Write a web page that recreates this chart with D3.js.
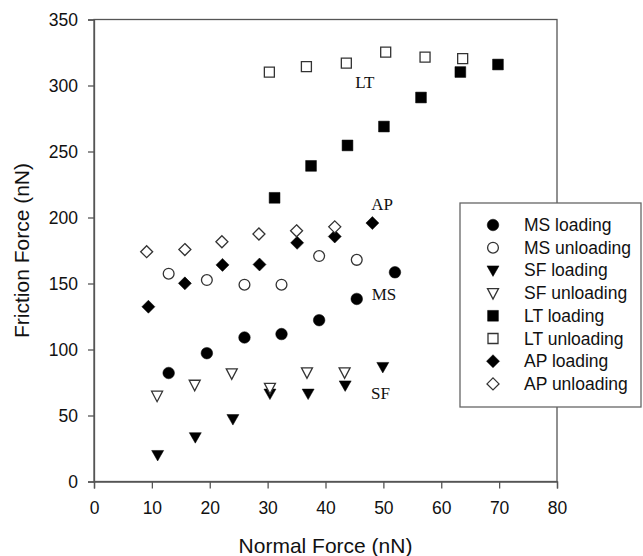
<!DOCTYPE html>
<html>
<head>
<meta charset="utf-8">
<title>Friction vs Normal Force</title>
<script src="https://cdn.jsdelivr.net/npm/d3@7/dist/d3.min.js"></script>
<style>
  body { margin: 0; background: #fff; }
  svg { display: block; font-family: "Liberation Sans", Arial, sans-serif; }
</style>
</head>
<body>
<svg id="chart" width="643" height="556"></svg>
<script>
// data (normal force nN, friction force nN)
const msLoadX = [12.9, 19.5, 26.0, 32.4, 38.9, 45.4, 52.0];
const msLoadY = [82.2, 97.2, 109.1, 111.7, 122.2, 138.3, 158.5];
const msUnloadX = [12.9, 19.5, 26.0, 32.4, 38.9, 45.4];
const msUnloadY = [157.4, 152.6, 149.1, 149.1, 170.8, 167.9];

const sfLoadX = [11.0, 17.5, 24.0, 30.4, 37.0, 43.4, 49.9];
const sfLoadY = [20.1, 33.6, 47.3, 66.6, 66.6, 72.8, 86.8];
const sfUnloadX = [10.9, 17.4, 23.8, 30.4, 36.8, 43.3];
const sfUnloadY = [65.0, 73.3, 81.9, 70.9, 82.7, 82.7];

const ltLoadX = [31.2, 37.5, 43.8, 50.1, 56.5, 63.3, 69.8];
const ltLoadY = [214.9, 239.1, 254.6, 268.9, 290.9, 310.2, 315.9];
const ltUnloadX = [30.3, 36.7, 43.6, 50.4, 57.2, 63.7];
const ltUnloadY = [310.2, 314.3, 316.9, 325.3, 321.5, 320.4];

const apLoadX = [9.4, 15.7, 22.2, 28.6, 35.1, 41.6, 48.1];
const apLoadY = [132.4, 150.1, 164.1, 164.4, 180.8, 185.6, 195.8];
const apUnloadX = [9.1, 15.7, 22.1, 28.5, 35.0, 41.6];
const apUnloadY = [174.1, 175.7, 181.6, 187.5, 189.9, 192.9];

const xTicks = [0, 10, 20, 30, 40, 50, 60, 70, 80];
const yTicks = [0, 50, 100, 150, 200, 250, 300, 350];

// group labels placed in data units
const groupLabels = ["LT", "AP", "MS", "SF"];
const groupLabelX = [46.8, 49.8, 50.1, 49.5];
const groupLabelY = [298, 205.7, 137.5, 62.5];

const series = [
  { name: "MS loading",   shape: "circle",   filled: true,  xs: msLoadX,   ys: msLoadY },
  { name: "MS unloading", shape: "circle",   filled: false, xs: msUnloadX, ys: msUnloadY },
  { name: "SF loading",   shape: "triangle", filled: true,  xs: sfLoadX,   ys: sfLoadY },
  { name: "SF unloading", shape: "triangle", filled: false, xs: sfUnloadX, ys: sfUnloadY },
  { name: "LT loading",   shape: "square",   filled: true,  xs: ltLoadX,   ys: ltLoadY },
  { name: "LT unloading", shape: "square",   filled: false, xs: ltUnloadX, ys: ltUnloadY },
  { name: "AP loading",   shape: "diamond",  filled: true,  xs: apLoadX,   ys: apLoadY },
  { name: "AP unloading", shape: "diamond",  filled: false, xs: apUnloadX, ys: apUnloadY }
];

const margin = { left: 94, right: 86, top: 19.5, bottom: 74.5 };
const W = 643, H = 556;
const svg = d3.select("#chart");

const x = d3.scaleLinear().domain([0, 80]).range([margin.left, W - margin.right]);
const y = d3.scaleLinear().domain([0, 350]).range([H - margin.bottom, margin.top]);

// marker path, centred on 0,0
function marker(shape, filled) {
  if (shape === "circle") {
    const r = filled ? 5.8 : 5.4;
    return `M${r},0A${r},${r} 0 1,1 ${-r},0A${r},${r} 0 1,1 ${r},0Z`;
  }
  if (shape === "square") {
    const h = filled ? 5.4 : 5;
    return `M${-h},${-h}H${h}V${h}H${-h}Z`;
  }
  if (shape === "triangle") {
    const w = filled ? 6 : 5.5;
    return `M${-w},${-4.5}H${w}L0,${6}Z`;
  }
  // diamond
  const d = filled ? 6.5 : 6;
  return `M0,${-d}L${d},0L0,${d}L${-d},0Z`;
}

function drawMarker(g, s) {
  g.append("path")
    .attr("d", marker(s.shape, s.filled))
    .attr("fill", s.filled ? "#000" : "#fff")
    .attr("stroke", s.filled ? "#000" : "#333")
    .attr("stroke-width", s.filled ? 0.5 : 1.3);
}

// plot frame
svg.append("rect")
  .attr("x", x(0)).attr("y", y(350))
  .attr("width", x(80) - x(0)).attr("height", y(0) - y(350))
  .attr("fill", "none").attr("stroke", "#555").attr("stroke-width", 1.3);

// axes
const xAxis = svg.append("g")
  .attr("transform", `translate(0,${y(0)})`)
  .call(d3.axisBottom(x).tickValues(xTicks).tickSize(7).tickPadding(13));
const yAxis = svg.append("g")
  .attr("transform", `translate(${x(0)},0)`)
  .call(d3.axisLeft(y).tickValues(yTicks).tickSize(6).tickPadding(10));

[xAxis, yAxis].forEach(a => {
  a.select(".domain").attr("stroke", "#555").attr("stroke-width", 1.3);
  a.selectAll(".tick line").attr("stroke", "#555").attr("stroke-width", 1.3);
  a.selectAll(".tick text")
    .attr("fill", "#111")
    .style("font-size", "17.5px")
    .style("font-family", "'Liberation Sans', Arial, sans-serif");
});

// axis titles
svg.append("text")
  .attr("x", (x(0) + x(80)) / 2).attr("y", 553)
  .attr("text-anchor", "middle")
  .attr("fill", "#111")
  .style("font-size", "21px")
  .text("Normal Force (nN)");

svg.append("text")
  .attr("transform", `translate(29,${(y(0) + y(350)) / 2}) rotate(-90)`)
  .attr("text-anchor", "middle")
  .attr("fill", "#111")
  .style("font-size", "21px")
  .text("Friction Force (nN)");

// points
series.forEach(s => {
  const g = svg.append("g").attr("class", "series");
  s.xs.forEach((xv, i) => {
    const pg = g.append("g").attr("transform", `translate(${x(xv)},${y(s.ys[i])})`);
    drawMarker(pg, s);
  });
});

// group labels
groupLabels.forEach((t, i) => {
  svg.append("text")
    .attr("x", x(groupLabelX[i])).attr("y", y(groupLabelY[i]))
    .attr("text-anchor", "middle")
    .attr("fill", "#111")
    .style("font-family", "'Liberation Serif', 'Times New Roman', serif")
    .style("font-size", "17px")
    .text(t);
});

// legend
const legend = svg.append("g").attr("transform", "translate(460,203)");
legend.append("rect")
  .attr("x", 0).attr("y", 0).attr("width", 181).attr("height", 204)
  .attr("fill", "#fff").attr("stroke", "#666").attr("stroke-width", 1.3);

series.forEach((s, i) => {
  const row = legend.append("g").attr("transform", `translate(33,${22 + i * 22.7})`);
  drawMarker(row, s);
  row.append("text")
    .attr("x", 31).attr("y", 6)
    .attr("fill", "#111")
    .style("font-size", "17.5px")
    .text(s.name);
});
</script>
</body>
</html>
